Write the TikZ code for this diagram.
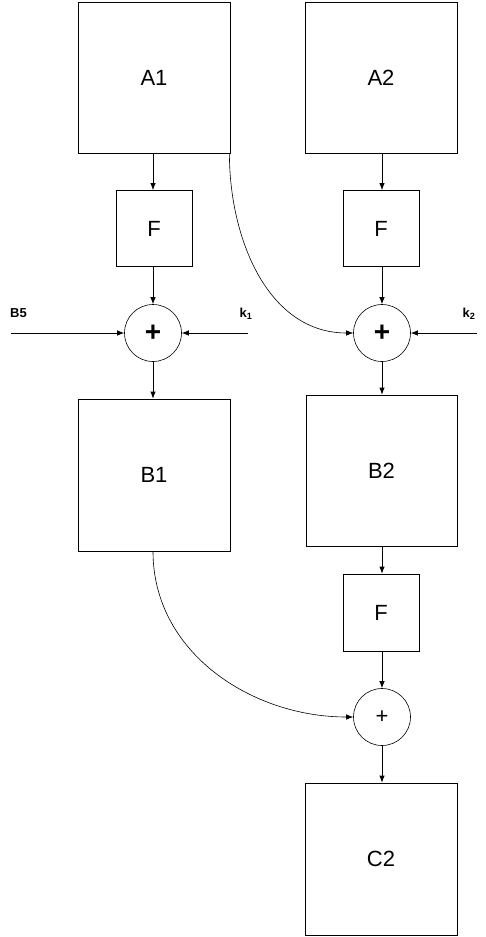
\documentclass[tikz,border=0pt]{standalone}
\usepackage{fontspec}
\setmainfont{Liberation Sans}
\usetikzlibrary{arrows.meta}
\begin{document}
\begin{tikzpicture}[x=1pt,y=-1pt,
  bigbox/.style={draw,line width=0.8pt,minimum width=152pt,minimum height=151pt,inner sep=0pt,font=\fontsize{22}{26}\selectfont},
  fbox/.style={draw,line width=0.8pt,minimum width=76pt,minimum height=76pt,inner sep=0pt,font=\fontsize{22}{26}\selectfont},
  sumnode/.style={draw,circle,line width=0.6pt,minimum size=57pt,inner sep=0pt},
  conn/.style={line width=0.8pt,-{Latex[length=7pt,width=5.5pt]}},
  lbl/.style={font=\bfseries\fontsize{13}{15}\selectfont,inner sep=0pt}]
\useasboundingbox (0,0) rectangle (485,937);
\node[bigbox] (A1) at (154,77.5) {A1};
\node[bigbox] (A2) at (381,77.5) {A2};
\node[fbox] (F1) at (154,228.5) {F};
\node[fbox] (F2) at (381,228.5) {F};
\node[sumnode,font=\bfseries\fontsize{28}{30}\selectfont] (P1) at (153,333) {+};
\node[sumnode,font=\bfseries\fontsize{28}{30}\selectfont] (P2) at (382,333) {+};
\node[bigbox,minimum height=152pt] (B1) at (154,475) {B1};
\node[bigbox,minimum width=151pt] (B2) at (381.5,470.5) {B2};
\node[fbox,minimum height=77pt] (F3) at (381,612.5) {F};
\node[sumnode,font=\fontsize{22}{24}\selectfont] (P3) at (382,717) {+};
\node[bigbox,minimum height=152pt] (C2) at (381,859) {C2};
\coordinate (in5) at (11,333);
\coordinate (ink1) at (248,333);
\coordinate (ink2) at (477,333);
\node[lbl] (lB5) at (18.5,313.5) {B5};
\node[lbl] (lk1) at (246,314) {k\textsubscript{1}};
\node[lbl] (lk2) at (469,314) {k\textsubscript{2}};
\draw[conn] (A1.south -| P1) -- (F1.north -| P1);
\draw[conn] (F1.south -| P1) -- (P1.north);
\draw[conn] (P1.south) -- (B1.north -| P1);
\draw[conn] (A2.south -| P2) -- (F2.north -| P2);
\draw[conn] (F2.south -| P2) -- (P2.north);
\draw[conn] (P2.south) -- (B2.north -| P2);
\draw[conn] (B2.south -| P3) -- (F3.north -| P3);
\draw[conn] (F3.south -| P3) -- (P3.north);
\draw[conn] (P3.south) -- (C2.north -| P3);
\draw[conn] (in5) -- (P1.west);
\draw[conn] (ink1) -- (P1.east);
\draw[conn] (ink2) -- (P2.east);
\draw[conn,line width=0.6pt] ([xshift=-1pt]A1.south east) to[out=-90,in=180] (P2.west);
\draw[conn,line width=0.6pt] (B1.south -| P1) to[out=-90,in=180] (P3.west);
\end{tikzpicture}
\end{document}
